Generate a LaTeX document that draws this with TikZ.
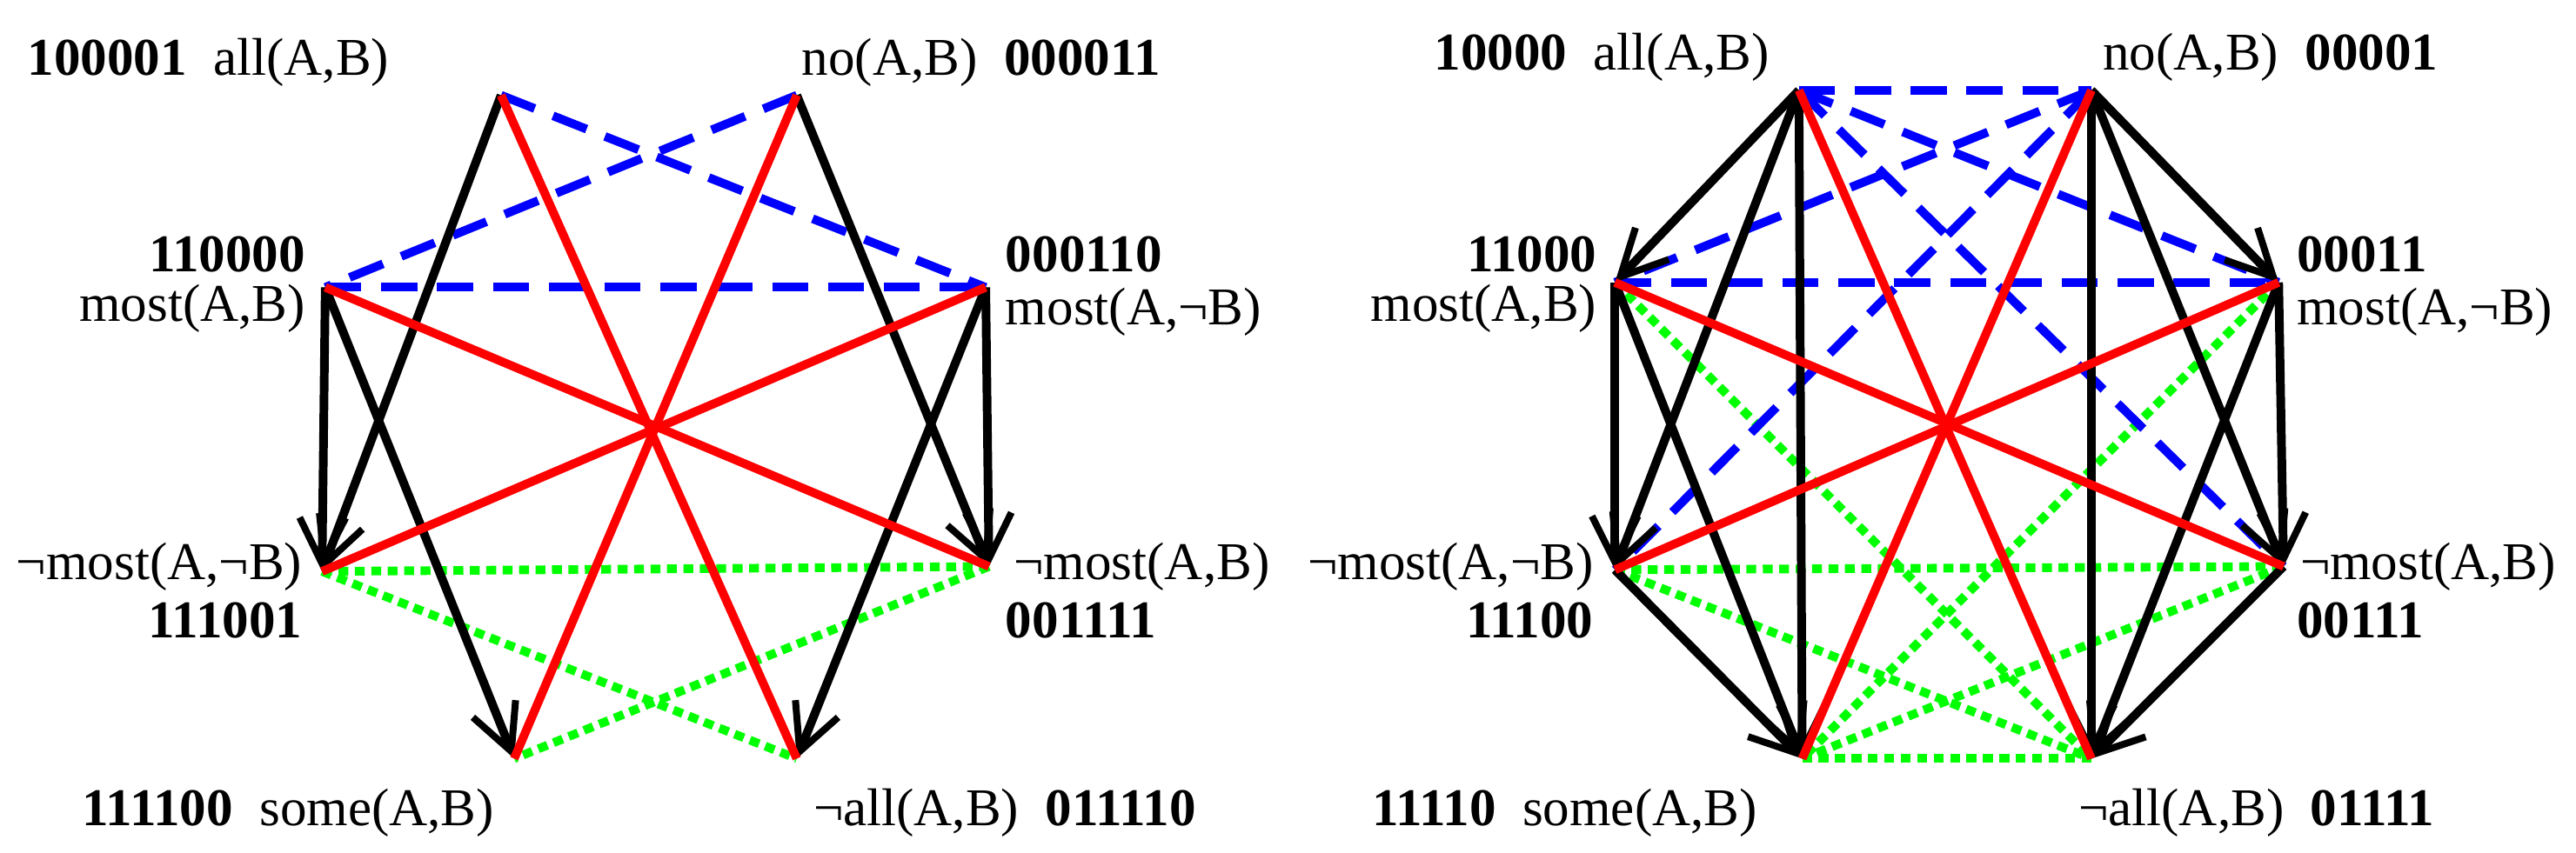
\documentclass[tikz,border=0pt]{standalone}
\usepackage{fontspec}
\setmainfont{Liberation Serif}
\usetikzlibrary{arrows.meta}
\begin{document}
\begin{tikzpicture}[x=0.05cm,y=0.05cm,
  every node/.style={font=\fontsize{46}{54}\selectfont, inner sep=0pt},
  ln/.style={line width=7.5pt},
  contra/.style={ln, blue, dash pattern=on 1.1cm off 0.6cm},
  contr/.style={ln, red},
  subc/.style={ln, green, dash pattern=on 0.3cm off 0.2cm},
  impl/.style={ln, black, -{Straight Barb[length=1.4cm,width=1.4cm,line width=6pt]}}]
\useasboundingbox (0,0) rectangle (1568,519);
% Left vertices
\coordinate (La) at (305,461); \coordinate (Lb) at (485,461);
\coordinate (Lc) at (198,344); \coordinate (Ld) at (600,344);
\coordinate (Le) at (196,171); \coordinate (Lf) at (602,174);
\coordinate (Lg) at (313,57);  \coordinate (Lh) at (485,57);
% Right vertices
\coordinate (Ra) at (1095,464); \coordinate (Rb) at (1273,464);
\coordinate (Rc) at (983,347);  \coordinate (Rd) at (1387,347);
\coordinate (Re) at (983,172);  \coordinate (Rf) at (1390,174);
\coordinate (Rg) at (1097,57);  \coordinate (Rh) at (1273,57);
% common edges
\foreach \p in {L,R}{
  \draw[subc] (\p e) -- (\p f);
  \draw[subc] (\p e) -- (\p h);
  \draw[subc] (\p f) -- (\p g);
}
\draw[subc] (Rg) -- (Rh);
\draw[subc] (Rc) -- (Rh);
\draw[subc] (Rd) -- (Rg);
\foreach \p in {L,R}{
  \draw[contra] (\p a) -- (\p d);
  \draw[contra] (\p b) -- (\p c);
  \draw[contra] (\p c) -- (\p d);
}
\draw[contra] (Ra) -- (Rb);
\draw[contra] (Ra) -- (Rf);
\draw[contra] (Rb) -- (Re);
\foreach \p in {L,R}{
  \draw[impl] (\p a) -- (\p e);
  \draw[impl] (\p c) -- (\p e);
  \draw[impl] (\p c) -- (\p g);
  \draw[impl] (\p b) -- (\p f);
  \draw[impl] (\p d) -- (\p f);
  \draw[impl] (\p d) -- (\p h);
}
\draw[impl] (Ra) -- (Rc);
\draw[impl] (Ra) -- (Rg);
\draw[impl] (Rb) -- (Rd);
\draw[impl] (Rb) -- (Rh);
\draw[impl] (Re) -- (Rg);
\draw[impl] (Rf) -- (Rh);
\foreach \p in {L,R}{
  \draw[contr] (\p a) -- (\p h);
  \draw[contr] (\p b) -- (\p g);
  \draw[contr] (\p c) -- (\p f);
  \draw[contr] (\p d) -- (\p e);
}
% Left labels
\node[anchor=east] (l1) at (237,481) {\textbf{100001}\hspace{0.5em}all(A,B)};
\node[anchor=west] (l2) at (488,481) {no(A,B)\hspace{0.5em}\textbf{000011}};
\node[anchor=east] (l3) at (186,364) {\textbf{110000}};
\node[anchor=east] (l4) at (186,331) {most(A,B)};
\node[anchor=west] (l5) at (612,364) {\textbf{000110}};
\node[anchor=west] (l6) at (612,329) {most(A,¬B)};
\node[anchor=east] (l7) at (184,174) {¬most(A,¬B)};
\node[anchor=east] (l8) at (184,141) {\textbf{111001}};
\node[anchor=west] (l9) at (617,174) {¬most(A,B)};
\node[anchor=west] (l10) at (612,141) {\textbf{001111}};
\node[anchor=west] (l11) at (50,24) {\textbf{111100}\hspace{0.5em}some(A,B)};
\node[anchor=west] (l12) at (495,24) {¬all(A,B)\hspace{0.5em}\textbf{011110}};
% Right labels
\node[anchor=east] (r1) at (1077,484) {\textbf{10000}\hspace{0.5em}all(A,B)};
\node[anchor=west] (r2) at (1280,484) {no(A,B)\hspace{0.5em}\textbf{00001}};
\node[anchor=east] (r3) at (972,364) {\textbf{11000}};
\node[anchor=east] (r4) at (972,331) {most(A,B)};
\node[anchor=west] (r5) at (1398,364) {\textbf{00011}};
\node[anchor=west] (r6) at (1398,329) {most(A,¬B)};
\node[anchor=east] (r7) at (970,174) {¬most(A,¬B)};
\node[anchor=east] (r8) at (970,141) {\textbf{11100}};
\node[anchor=west] (r9) at (1400,174) {¬most(A,B)};
\node[anchor=west] (r10) at (1398,141) {\textbf{00111}};
\node[anchor=west] (r11) at (835,24) {\textbf{11110}\hspace{0.5em}some(A,B)};
\node[anchor=west] (r12) at (1265,24) {¬all(A,B)\hspace{0.5em}\textbf{01111}};
\end{tikzpicture}
\end{document}
